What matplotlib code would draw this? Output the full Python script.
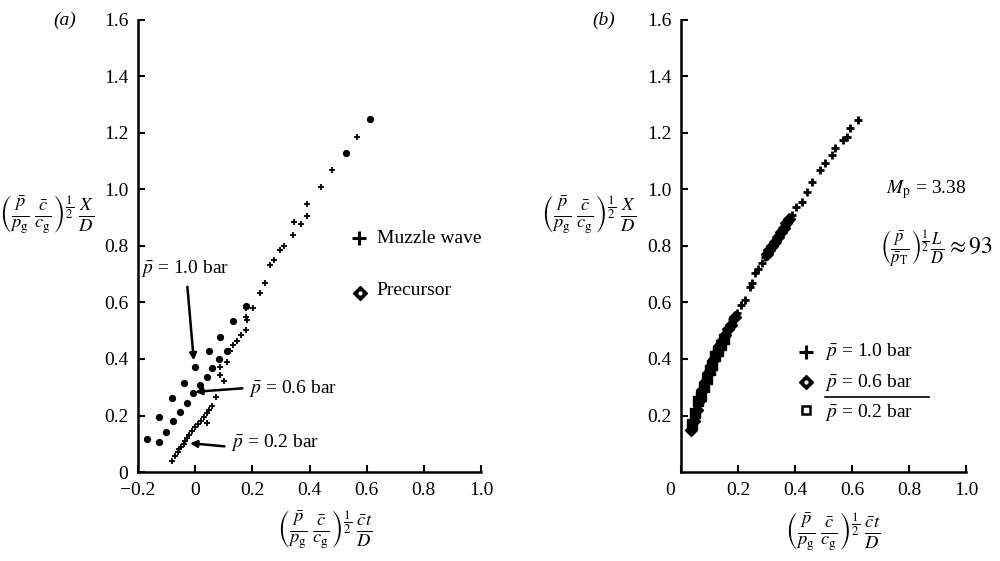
import matplotlib
matplotlib.use("Agg")
import matplotlib.pyplot as plt
import matplotlib.transforms as mtransforms

plt.rcParams['font.family'] = ['Liberation Serif', 'DejaVu Serif']
plt.rcParams['mathtext.fontset'] = 'stix'

# ---- panel (a) data ----
muzzle_x = [-0.08, -0.07, -0.06, -0.055, -0.05, -0.04, -0.035, -0.03, -0.02, -0.01,
            0.0, 0.01, 0.02, 0.03, 0.04, 0.05, 0.06, 0.042, 0.074, 0.10, 0.088,
            0.088, 0.11, 0.123, 0.134, 0.147, 0.16, 0.178, 0.18, 0.179, 0.179,
            0.204, 0.228, 0.246, 0.263, 0.277, 0.298, 0.312, 0.344, 0.347, 0.37,
            0.39, 0.39, 0.44, 0.477, 0.565]
muzzle_y = [0.04, 0.055, 0.07, 0.08, 0.09, 0.10, 0.11, 0.12, 0.13, 0.145,
            0.16, 0.17, 0.18, 0.195, 0.21, 0.22, 0.235, 0.173, 0.266, 0.322, 0.343,
            0.372, 0.39, 0.43, 0.449, 0.464, 0.485, 0.503, 0.538, 0.55, 0.58,
            0.58, 0.633, 0.669, 0.733, 0.75, 0.786, 0.80, 0.839, 0.885, 0.878,
            0.906, 0.95, 1.01, 1.07, 1.186]

precursor_x = [-0.17, -0.126, -0.126, -0.102, -0.081, -0.078, -0.053, -0.038, -0.028,
               -0.007, 0.0, 0.018, 0.042, 0.047, 0.06, 0.082, 0.088, 0.11, 0.134,
               0.179, 0.526, 0.61]
precursor_y = [0.117, 0.107, 0.195, 0.142, 0.262, 0.181, 0.212, 0.315, 0.244,
               0.28, 0.372, 0.308, 0.337, 0.428, 0.368, 0.40, 0.478, 0.43, 0.535,
               0.588, 1.13, 1.25]

# ---- panel (b) data ----
b10_x = [0.04, 0.05, 0.06, 0.07, 0.08, 0.09, 0.10, 0.11, 0.12, 0.13, 0.14, 0.15,
         0.16, 0.17, 0.18, 0.196, 0.21, 0.225, 0.242, 0.25, 0.26, 0.27, 0.284,
         0.295, 0.305, 0.315, 0.325, 0.337, 0.345, 0.358, 0.37, 0.38, 0.39,
         0.405, 0.423, 0.441, 0.459, 0.488, 0.505, 0.529, 0.54, 0.57, 0.582,
         0.593, 0.621]
b10_y = [0.16, 0.20, 0.24, 0.28, 0.31, 0.34, 0.37, 0.39, 0.42, 0.44, 0.46, 0.48,
         0.50, 0.52, 0.54, 0.563, 0.59, 0.61, 0.655, 0.67, 0.703, 0.72, 0.74,
         0.76, 0.775, 0.79, 0.805, 0.821, 0.835, 0.857, 0.875, 0.89, 0.91,
         0.938, 0.957, 0.992, 1.027, 1.069, 1.093, 1.122, 1.146, 1.175, 1.186,
         1.218, 1.246]
b06_x = [0.035, 0.045, 0.055, 0.065, 0.075, 0.085, 0.095, 0.105, 0.115, 0.125,
         0.135, 0.145, 0.155, 0.165, 0.175, 0.19, 0.30, 0.31, 0.32, 0.33, 0.34,
         0.35, 0.36, 0.37, 0.38]
b06_y = [0.15, 0.18, 0.22, 0.255, 0.29, 0.32, 0.35, 0.375, 0.40, 0.425,
         0.445, 0.465, 0.485, 0.505, 0.52, 0.55, 0.77, 0.785, 0.80, 0.815, 0.83,
         0.85, 0.865, 0.88, 0.895]
b02_x = [0.04, 0.05, 0.06, 0.07, 0.08, 0.09, 0.10, 0.11, 0.12, 0.13, 0.14, 0.15]
b02_y = [0.17, 0.21, 0.25, 0.27, 0.30, 0.33, 0.36, 0.38, 0.41, 0.43, 0.45, 0.47]

y_ticks = [0, 0.2, 0.4, 0.6, 0.8, 1.0, 1.2, 1.4, 1.6]
y_labels = ['0', '0.2', '0.4', '0.6', '0.8', '1.0', '1.2', '1.4', '1.6']
xa_ticks = [-0.2, 0, 0.2, 0.4, 0.6, 0.8, 1.0]
xa_labels = ['\u22120.2', '0', '0.2', '0.4', '0.6', '0.8', '1.0']
xb_ticks = [0, 0.2, 0.4, 0.6, 0.8, 1.0]
xb_labels = ['0', '0.2', '0.4', '0.6', '0.8', '1.0']

YLABEL = r'$\left(\frac{\bar{p}}{p_{\rm g}}\,\frac{\bar{c}}{c_{\rm g}}\right)^{\frac{1}{2}}\,\frac{X}{D}$'
XLABEL = r'$\left(\frac{\bar{p}}{p_{\rm g}}\,\frac{\bar{c}}{c_{\rm g}}\right)^{\frac{1}{2}}\,\frac{\bar{c}t}{D}$'

FS = 14
MFS = 19

fig = plt.figure(figsize=(10, 5.61), dpi=100)
ax_a = fig.add_axes([0.138, 0.1586, 0.343, 0.806])
ax_b = fig.add_axes([0.681, 0.1586, 0.285, 0.806])


def style_axes(ax):
    for side in ('top', 'right'):
        ax.spines[side].set_visible(False)
    for side in ('left', 'bottom'):
        ax.spines[side].set_linewidth(1.8)
    ax.tick_params(direction='in', length=5, width=1.5, labelsize=FS, pad=7)
    ax.set_ylim(0, 1.6)


# ---- panel (a) ----
style_axes(ax_a)
ax_a.set_xlim(-0.2, 1.0)
ax_a.set_xticks(xa_ticks)
ax_a.set_xticklabels(xa_labels)
ax_a.set_yticks(y_ticks)
ax_a.set_yticklabels(y_labels)
ax_a.plot(muzzle_x, muzzle_y, '+', color='black', markersize=5, mew=1.3, clip_on=False)
ax_a.plot(precursor_x, precursor_y, 'o', color='black', markersize=4.2, clip_on=False)

arrow = dict(arrowstyle='-|>', color='black', lw=1.8, mutation_scale=10)
ax_a.annotate('', xy=(-0.004, 0.385), xytext=(-0.028, 0.665), arrowprops=arrow)
ax_a.text(-0.19, 0.72, r'$\bar{p}$ = 1.0 bar', fontsize=FS, va='center')
ax_a.annotate('', xy=(-0.01, 0.283), xytext=(0.175, 0.297), arrowprops=arrow)
ax_a.text(0.19, 0.297, r'$\bar{p}$ = 0.6 bar', fontsize=FS, va='center')
ax_a.annotate('', xy=(-0.028, 0.103), xytext=(0.112, 0.09), arrowprops=arrow)
ax_a.text(0.125, 0.105, r'$\bar{p}$ = 0.2 bar', fontsize=FS, va='center')

ax_a.plot([0.572], [0.828], '+', color='black', markersize=10, mew=2.2)
ax_a.text(0.635, 0.828, 'Muzzle wave', fontsize=FS, va='center')
ax_a.plot([0.576], [0.633], 'D', color='black', markersize=7)
ax_a.plot([0.576], [0.633], 'o', color='white', markersize=2)
ax_a.text(0.635, 0.643, 'Precursor', fontsize=FS, va='center')

fig.text(0.065, 0.964, '(a)', fontsize=FS, ha='center', va='center', style='italic')
fig.text(0.047, 1 - 215 / 561, YLABEL, fontsize=MFS, ha='center', va='center')
fig.text(0.325, 1 - 530 / 561, XLABEL, fontsize=MFS, ha='center', va='center')

# ---- panel (b) ----
style_axes(ax_b)
ax_b.set_xlim(0, 1.0)
ax_b.set_xticks(xb_ticks)
ax_b.set_xticklabels(xb_labels)
ax_b.set_yticks(y_ticks[1:])
ax_b.set_yticklabels(y_labels[1:])
shift = mtransforms.ScaledTranslation(-11 / 100, 0, fig.dpi_scale_trans)
first = ax_b.get_xticklabels()[0]
first.set_transform(first.get_transform() + shift)

ax_b.plot(b10_x, b10_y, '+', color='black', markersize=6, mew=2.0)
ax_b.plot(b06_x, b06_y, 'D', color='black', markersize=6)
ax_b.plot(b02_x, b02_y, 's', color='black', markersize=6.5)

ax_b.text(0.72, 1.0, r'$M_{\rm p}$ = 3.38', fontsize=FS, va='center')
ax_b.text(0.70, 0.79,
          r'$\left(\frac{\bar{p}}{\bar{p}_{\rm T}}\right)^{\frac{1}{2}}\frac{L}{D}\approx 93$',
          fontsize=17, va='center')

ax_b.plot([0.44], [0.425], '+', color='black', markersize=10, mew=2.2)
ax_b.text(0.505, 0.425, r'$\bar{p}$ = 1.0 bar', fontsize=FS, va='center')
ax_b.plot([0.44], [0.318], 'D', color='black', markersize=7)
ax_b.plot([0.44], [0.318], 'o', color='white', markersize=2)
ax_b.text(0.505, 0.318, r'$\bar{p}$ = 0.6 bar', fontsize=FS, va='center')
ax_b.plot([0.505, 0.87], [0.265, 0.265], color='black', lw=1.2)
ax_b.plot([0.44], [0.219], 's', color='black', markersize=6, mfc='white', mew=1.8)
ax_b.text(0.505, 0.212, r'$\bar{p}$ = 0.2 bar', fontsize=FS, va='center')

fig.text(0.604, 0.964, '(b)', fontsize=FS, ha='center', va='center', style='italic')
fig.text(0.589, 1 - 215 / 561, YLABEL, fontsize=MFS, ha='center', va='center')
fig.text(0.833, 1 - 532 / 561, XLABEL, fontsize=MFS, ha='center', va='center')

fig.savefig('out.png', dpi=100)
